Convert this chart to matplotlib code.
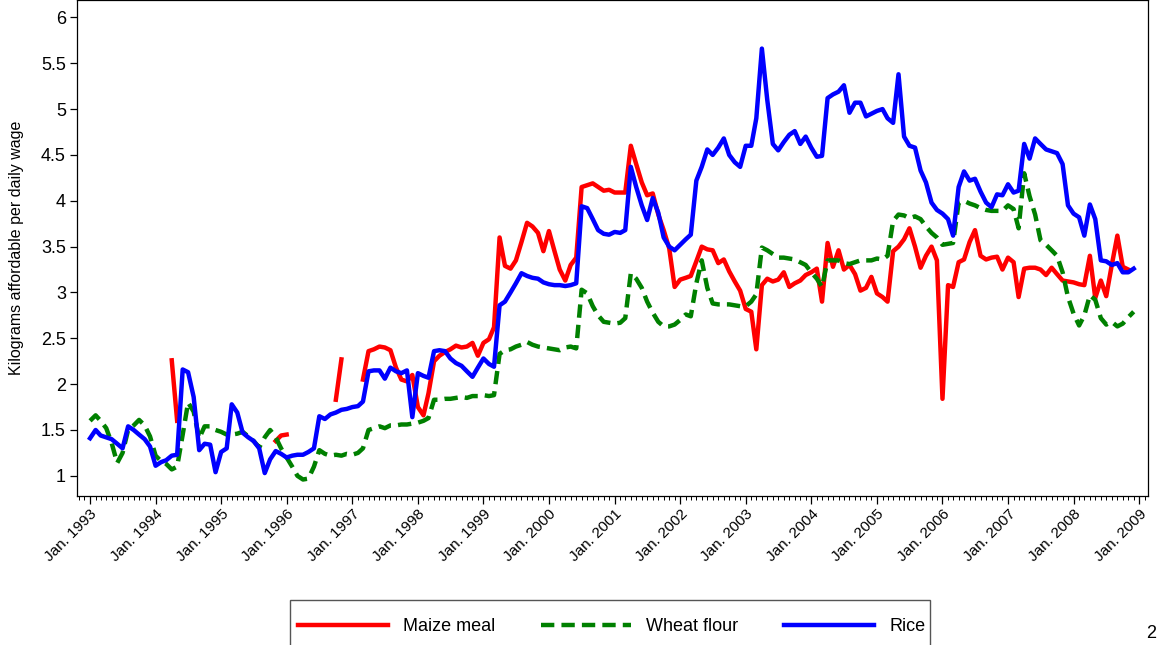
import numpy as np
import pandas as pd
import matplotlib
matplotlib.use("Agg")
import matplotlib.pyplot as plt
import matplotlib.dates as mdates
from matplotlib.patches import Rectangle

plt.rcParams["font.family"] = ["Liberation Sans", "DejaVu Sans"]

nan = np.nan

# monthly series, Jan. 1993 - Dec. 2008
months = pd.date_range("1993-01-01", periods=192, freq="MS")

maize = [
    nan, nan, nan, nan, nan, nan, nan, nan, nan, nan, nan, nan,
    nan, nan, nan, 2.26, 1.60, nan, nan, nan, nan, nan, nan, nan,
    nan, nan, nan, nan, nan, nan, nan, nan, nan, nan, 1.38, 1.44,
    1.45, nan, nan, nan, nan, nan, nan, nan, nan, 1.83, 2.27, nan,
    nan, nan, 2.05, 2.36, 2.38, 2.41, 2.40, 2.37, 2.18, 2.05, 2.03, 2.10,
    1.75, 1.66, 1.90, 2.25, 2.31, 2.35, 2.38, 2.42, 2.40, 2.41, 2.45, 2.31,
    2.45, 2.49, 2.62, 3.60, 3.29, 3.26, 3.35, 3.55, 3.76, 3.72, 3.65, 3.45,
    3.67, 3.45, 3.25, 3.13, 3.30, 3.38, 4.15, 4.17, 4.19, 4.15, 4.11, 4.12,
    4.09, 4.09, 4.09, 4.60, 4.40, 4.20, 4.06, 4.08, 3.85, 3.68, 3.48, 3.06,
    3.14, 3.16, 3.18, 3.34, 3.50, 3.47, 3.46, 3.32, 3.36, 3.23, 3.12, 3.02,
    2.82, 2.79, 2.38, 3.08, 3.15, 3.12, 3.14, 3.22, 3.06, 3.10, 3.13, 3.19,
    3.22, 3.26, 2.90, 3.54, 3.28, 3.46, 3.25, 3.30, 3.20, 3.02, 3.05, 3.17,
    2.99, 2.95, 2.90, 3.45, 3.50, 3.58, 3.70, 3.50, 3.27, 3.40, 3.50, 3.35,
    1.84, 3.08, 3.06, 3.33, 3.36, 3.55, 3.68, 3.40, 3.36, 3.38, 3.39, 3.25,
    3.38, 3.33, 2.95, 3.26, 3.27, 3.27, 3.25, 3.19, 3.27, 3.20, 3.13, 3.12,
    3.11, 3.09, 3.08, 3.40, 2.94, 3.13, 2.96, 3.30, 3.62, 3.28, 3.25, nan,
]

wheat = [
    1.60, 1.66, 1.60, 1.52, 1.36, 1.14, 1.25, 1.50, 1.55, 1.61, 1.55, 1.43,
    1.22, 1.16, 1.13, 1.07, 1.10, 1.45, 1.80, 1.70, 1.41, 1.54, 1.54, 1.50,
    1.48, 1.45, 1.45, 1.46, 1.48, 1.43, 1.38, 1.31, 1.42, 1.50, 1.42, 1.30,
    1.20, 1.10, 1.00, 0.96, 0.97, 1.10, 1.28, 1.24, 1.22, 1.23, 1.22, 1.24,
    1.23, 1.25, 1.30, 1.50, 1.52, 1.54, 1.52, 1.55, 1.55, 1.56, 1.56, 1.57,
    1.58, 1.60, 1.63, 1.83, 1.83, 1.84, 1.84, 1.85, 1.86, 1.85, 1.87, 1.87,
    1.88, 1.87, 1.88, 2.33, 2.37, 2.38, 2.41, 2.43, 2.46, 2.43, 2.41, 2.40,
    2.39, 2.38, 2.37, 2.40, 2.41, 2.39, 3.03, 2.99, 2.85, 2.75, 2.68, 2.67,
    2.66, 2.67, 2.72, 3.21, 3.15, 3.05, 2.90, 2.78, 2.68, 2.63, 2.63, 2.65,
    2.70, 2.76, 2.74, 3.10, 3.35, 3.05, 2.88, 2.87, 2.87, 2.87, 2.86, 2.85,
    2.85, 2.90, 2.98, 3.49, 3.46, 3.42, 3.38, 3.38, 3.37, 3.36, 3.33, 3.30,
    3.22, 3.15, 3.06, 3.35, 3.35, 3.35, 3.32, 3.31, 3.33, 3.35, 3.35, 3.35,
    3.37, 3.36, 3.40, 3.78, 3.85, 3.84, 3.81, 3.83, 3.80, 3.72, 3.65, 3.60,
    3.52, 3.53, 3.54, 3.98, 4.00, 3.97, 3.95, 3.92, 3.90, 3.89, 3.89, 3.89,
    3.95, 3.91, 3.70, 4.30, 4.05, 3.85, 3.57, 3.52, 3.46, 3.40, 3.22, 2.95,
    2.77, 2.64, 2.75, 2.97, 2.92, 2.72, 2.65, 2.68, 2.63, 2.66, 2.73, 2.79,
]

rice = [
    1.41, 1.50, 1.44, 1.42, 1.40, 1.35, 1.30, 1.54, 1.50, 1.45, 1.40, 1.32,
    1.11, 1.15, 1.17, 1.22, 1.23, 2.16, 2.13, 1.86, 1.28, 1.35, 1.34, 1.04,
    1.26, 1.30, 1.78, 1.69, 1.47, 1.42, 1.38, 1.30, 1.03, 1.18, 1.27, 1.24,
    1.20, 1.22, 1.23, 1.23, 1.26, 1.30, 1.65, 1.62, 1.67, 1.69, 1.72, 1.73,
    1.75, 1.76, 1.81, 2.14, 2.15, 2.15, 2.06, 2.18, 2.14, 2.12, 2.15, 1.64,
    2.12, 2.09, 2.07, 2.36, 2.37, 2.36, 2.28, 2.23, 2.20, 2.14, 2.08, 2.18,
    2.28, 2.22, 2.19, 2.86, 2.90, 3.00, 3.10, 3.21, 3.18, 3.16, 3.15, 3.11,
    3.09, 3.08, 3.08, 3.07, 3.08, 3.10, 3.94, 3.92, 3.80, 3.68, 3.64, 3.63,
    3.66, 3.65, 3.68, 4.37, 4.15, 3.95, 3.79, 4.03, 3.87, 3.60, 3.50, 3.46,
    3.52, 3.58, 3.63, 4.22, 4.37, 4.56, 4.50, 4.58, 4.68, 4.50, 4.42, 4.37,
    4.60, 4.60, 4.90, 5.66, 5.10, 4.62, 4.55, 4.64, 4.72, 4.76, 4.62, 4.70,
    4.58, 4.48, 4.49, 5.12, 5.16, 5.19, 5.26, 4.96, 5.07, 5.07, 4.92, 4.95,
    4.98, 5.00, 4.90, 4.85, 5.38, 4.70, 4.60, 4.58, 4.33, 4.20, 3.98, 3.90,
    3.86, 3.80, 3.62, 4.15, 4.32, 4.22, 4.24, 4.10, 3.98, 3.93, 4.07, 4.06,
    4.18, 4.09, 4.11, 4.62, 4.46, 4.68, 4.62, 4.56, 4.54, 4.52, 4.40, 3.95,
    3.86, 3.82, 3.62, 3.96, 3.80, 3.35, 3.34, 3.30, 3.32, 3.22, 3.22, 3.26,
]

fig = plt.figure(figsize=(11.59, 6.45), dpi=100)
ax = fig.add_axes([0.0664, 0.231, 0.924, 0.769])

ax.plot(months, maize, color="#ff0000", lw=3.2, label="Maize meal")
ax.plot(months, wheat, color="#008000", lw=3.2, dashes=(3.0, 1.6), label="Wheat flour")
ax.plot(months, rice, color="#0000ff", lw=3.2, label="Rice")

ax.set_xlim(pd.Timestamp("1992-10-20"), pd.Timestamp("2009-02-18"))
ax.set_ylim(0.78, 6.19)

ax.xaxis.set_major_locator(mdates.YearLocator(1, month=1, day=1))
ax.xaxis.set_minor_locator(mdates.MonthLocator())
ax.xaxis.set_major_formatter(mdates.DateFormatter("Jan. %Y"))
ax.set_yticks(np.arange(1, 6.01, 0.5))
ax.set_yticklabels([f"{v:g}" for v in np.arange(1, 6.01, 0.5)])

ax.tick_params(axis="x", which="major", length=6, width=0.9, labelsize=11, pad=2)
ax.tick_params(axis="x", which="minor", length=3, width=0.7)
ax.tick_params(axis="y", which="major", length=5, width=0.9, labelsize=13, pad=3)
for lab in ax.get_xticklabels():
    lab.set_rotation(45)
    lab.set_ha("right")
    lab.set_rotation_mode("anchor")

for s in ax.spines.values():
    s.set_linewidth(0.9)

ax.set_ylabel("Kilograms affordable per daily wage", fontsize=11.5, labelpad=12)

# legend box runs past the bottom edge of the page, as in the source
fig.add_artist(Rectangle((290 / 1159, -0.02), 640 / 1159, 45 / 645 + 0.02,
                         transform=fig.transFigure, fill=False,
                         edgecolor="#555555", linewidth=1.0))
fig.legend(loc="center", bbox_to_anchor=(0.5276, 0.028), ncol=3,
           fontsize=13, handlelength=5.0, handletextpad=0.85,
           columnspacing=2.5, frameon=False, borderaxespad=0)

fig.text(0.993, 0.004, "2", fontsize=13, ha="center", va="bottom")

fig.savefig("out.png", dpi=100)
